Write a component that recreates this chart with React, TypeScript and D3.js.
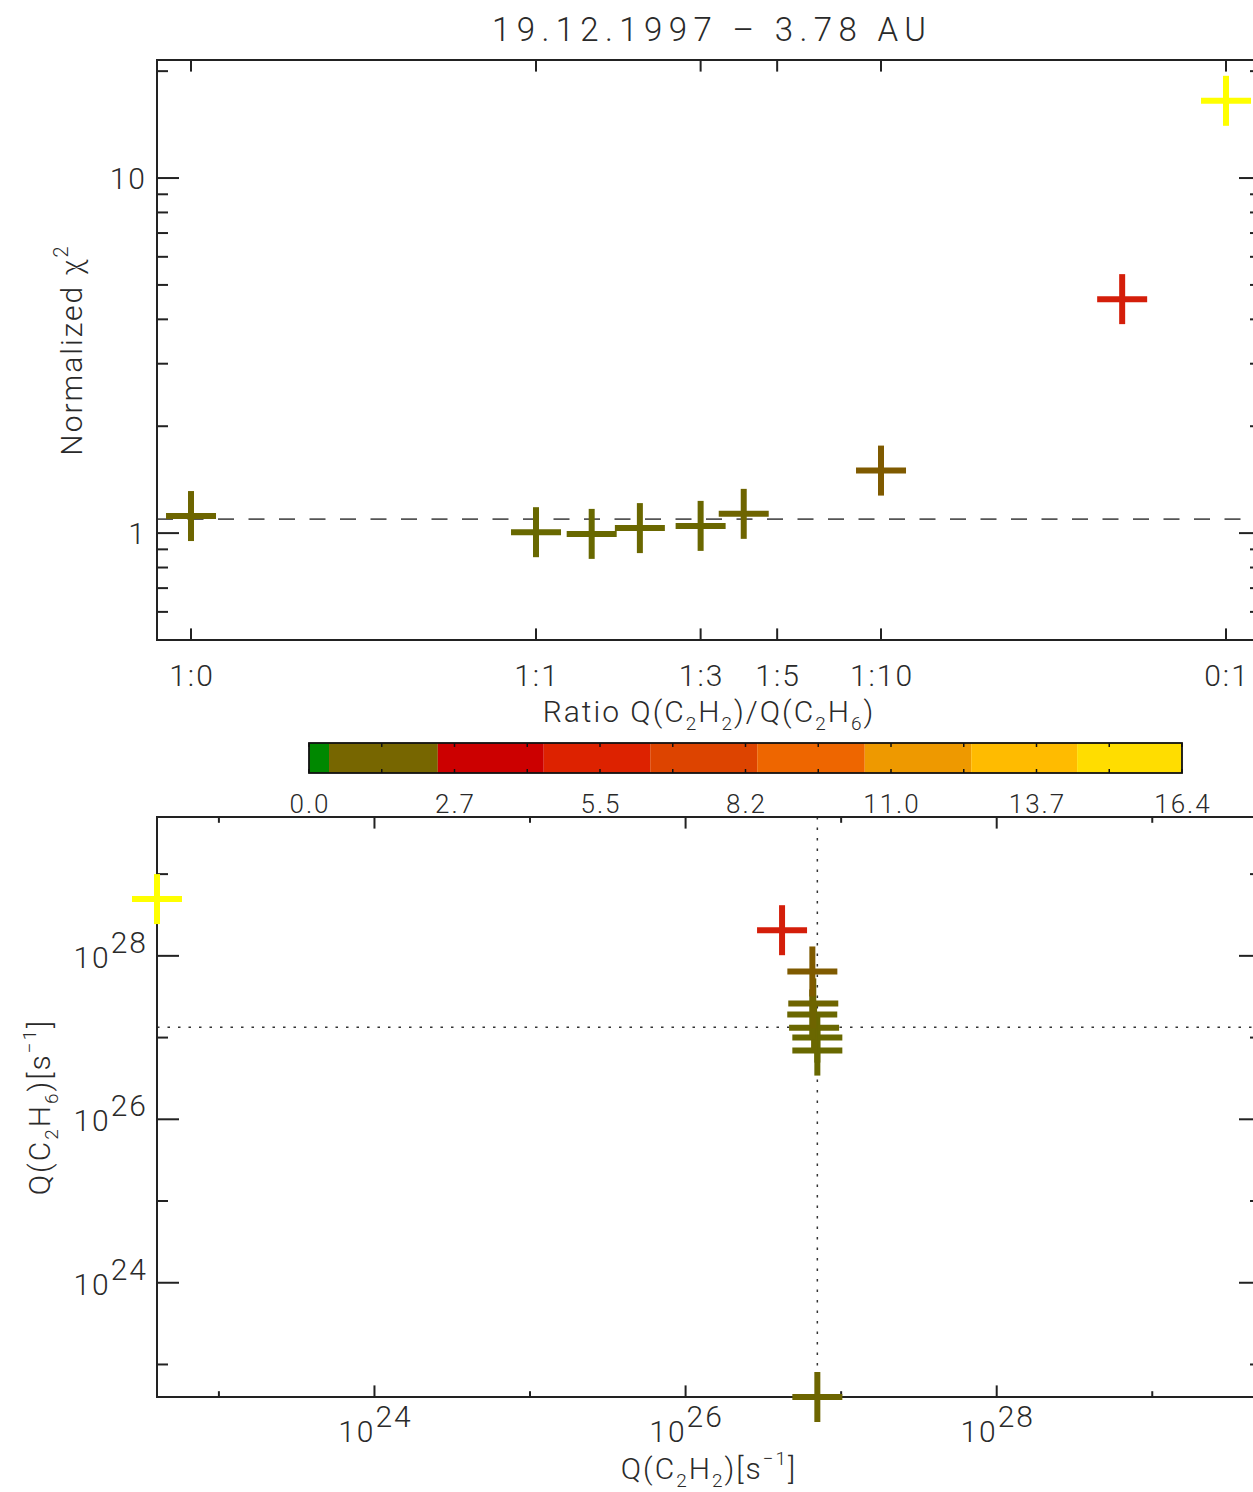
import React from 'react';
import * as d3 from 'd3';

// ---------- data ----------
const ratioTickLabels = ['1:0', '1:1', '1:3', '1:5', '1:10', '0:1'];
const ratioTickValues = [0.1, 1, 3, 5, 10, 100];
const ratioValues = [0.1, 1, 1.45, 2, 3, 4, 10, 50, 100];
const chi2Values = [1.117, 1.006, 0.995, 1.033, 1.048, 1.133, 1.5, 4.56, 16.5];
const qC2H2 = [7.03e26, 7.03e26, 7.03e26, 6.7e26, 6.52e26, 6.62e26, 6.53e26, 4.17e26, 0];
const qC2H6 = [0, 6.93e26, 1.0e27, 1.32e27, 1.92e27, 2.62e27, 6.44e27, 2.06e28, 4.95e28];
const chi2Reference = 1.095;
const bestQC2H2 = 7.03e26;
const bestQC2H6 = 1.34e27;

const chi2MajorTicks = [1, 10];
const chi2MinorTicks = [0.5, 0.6, 0.7, 0.8, 0.9, 2, 3, 4, 5, 6, 7, 8, 9, 20];
const qMajorExp = [24, 26, 28];
const qMinorExp = [23, 25, 27, 29];

const colorbarBounds = [0, 0.376, 2.42, 4.41, 6.41, 8.42, 10.44, 12.44, 14.43, 16.4];
const colorbarColors = ['#008800', '#776600', '#cc0000', '#dd2200', '#dd4400', '#ee6600', '#ee9900', '#ffbb00', '#ffdd00'];
const colorbarTickLabels = ['0.0', '2.7', '5.5', '8.2', '11.0', '13.7', '16.4'];
const colorbarMax = 16.4;

const chi2ColorStops = [1.0, 1.5, 4.56, 16.4];
const chi2Colors = ['#686800', '#7f5a00', '#d41e0a', '#ffff00'];

// ---------- layout ----------
const W = 1253, H = 1492;
const P1 = { l: 157, r: 1261, t: 60, b: 640 };
const P2 = { l: 157, r: 1261, t: 817, b: 1397 };
const CB = { l: 309, r: 1182, t: 743, b: 773 };
const FONT = 'Roboto, "DejaVu Sans", sans-serif';
const TXT = '#2a2a2a';
const AX = '#222';
const LS = 2;
const CROSS = 50;
const CROSS_W = 6;

const xTop = d3.scaleLog().domain([Math.pow(10, -1.0986), Math.pow(10, 2.1014)]).range([P1.l, P1.r]);
const yTop = d3.scaleLog().domain([0.5, 21.5]).range([P1.b, P1.t]);
const qDomain = [4e22, 5e29];
const xBot = d3.scaleLog().domain(qDomain).range([P2.l, P2.r]);
const yBot = d3.scaleLog().domain(qDomain).range([P2.b, P2.t]);
const cbX = d3.scaleLinear().domain([0, colorbarMax]).range([CB.l, CB.r]);
const chi2Color = d3.scaleLinear<string>().domain(chi2ColorStops).range(chi2Colors).interpolate(d3.interpolateRgb).clamp(true);

const clampQ = (v: number) => Math.max(v, qDomain[0]);

function Cross({ x, y, color }: { x: number; y: number; color: string }) {
  return (
    <g stroke={color} strokeWidth={CROSS_W}>
      <line x1={x - CROSS / 2} x2={x + CROSS / 2} y1={y} y2={y} />
      <line x1={x} x2={x} y1={y - CROSS / 2} y2={y + CROSS / 2} />
    </g>
  );
}

export default function App() {
  const xTickLen1 = 11.6, yTickLen = 22;
  const cbTickStep = colorbarMax / 12;
  const cbTicks = d3.range(0, 13).map((i) => i * cbTickStep);

  return (
    <svg width={W} height={H} style={{ position: 'absolute', left: 0, top: 0, background: '#fff' }} fontFamily={FONT} fontWeight={300} letterSpacing={LS}>
      <rect width={W} height={H} fill="#fff" />
      {/* Title */}
      <text x={709} y={41} textAnchor="middle" fontSize={33} fill={TXT} textLength={434} lengthAdjust="spacing" letterSpacing={0}>19.12.1997 – 3.78 AU</text>

      {/* ===== top panel ===== */}
      <line x1={P1.l} x2={P1.r} y1={yTop(chi2Reference)} y2={yTop(chi2Reference)} stroke="#555" strokeWidth={1.8} strokeDasharray="16 14.5" />
      <g stroke={AX} strokeWidth={2} fill="none">
        <rect x={P1.l} y={P1.t} width={P1.r - P1.l} height={P1.b - P1.t} />
        {ratioTickValues.map((v, i) => (
          <g key={i}>
            <line x1={xTop(v)} x2={xTop(v)} y1={P1.b} y2={P1.b - xTickLen1} />
            <line x1={xTop(v)} x2={xTop(v)} y1={P1.t} y2={P1.t + xTickLen1} />
          </g>
        ))}
        {chi2MajorTicks.map((v, i) => (
          <g key={'M' + i}>
            <line x1={P1.l} x2={P1.l + yTickLen} y1={yTop(v)} y2={yTop(v)} />
            <line x1={P1.r} x2={P1.r - yTickLen} y1={yTop(v)} y2={yTop(v)} />
          </g>
        ))}
        {chi2MinorTicks.map((v, i) => (
          <g key={'m' + i}>
            <line x1={P1.l} x2={P1.l + yTickLen / 2} y1={yTop(v)} y2={yTop(v)} />
            <line x1={P1.r} x2={P1.r - yTickLen / 2} y1={yTop(v)} y2={yTop(v)} />
          </g>
        ))}
      </g>
      {chi2MajorTicks.map((v, i) => (
        <text key={i} x={P1.l - 10} y={yTop(v) + 11} textAnchor="end" fontSize={30} fill={TXT}>{String(v)}</text>
      ))}
      {ratioTickValues.map((v, i) => (
        <text key={i} x={xTop(v) + 1} y={686} textAnchor="middle" fontSize={30} fill={TXT}>{ratioTickLabels[i]}</text>
      ))}
      <text x={709} y={722} textAnchor="middle" fontSize={30} fill={TXT}>
        Ratio Q(C<tspan fontSize={19} dy={8}>2</tspan><tspan dy={-8}>H</tspan><tspan fontSize={19} dy={8}>2</tspan><tspan dy={-8}>)/Q(C</tspan><tspan fontSize={19} dy={8}>2</tspan><tspan dy={-8}>H</tspan><tspan fontSize={19} dy={8}>6</tspan><tspan dy={-8}>)</tspan>
      </text>
      <text transform={`translate(82,${(P1.t + P1.b) / 2}) rotate(-90)`} textAnchor="middle" fontSize={30} fill={TXT}>
        Normalized χ<tspan fontSize={20} dy={-14}>2</tspan>
      </text>
      {ratioValues.map((r, i) => (
        <Cross key={i} x={xTop(r)} y={yTop(chi2Values[i])} color={chi2Color(chi2Values[i])} />
      ))}

      {/* ===== colorbar ===== */}
      {colorbarColors.map((c, i) => (
        <rect key={i} x={cbX(colorbarBounds[i])} y={CB.t} width={cbX(colorbarBounds[i + 1]) - cbX(colorbarBounds[i])} height={CB.b - CB.t} fill={c} />
      ))}
      <rect x={CB.l} y={CB.t} width={CB.r - CB.l} height={CB.b - CB.t} fill="none" stroke="#111" strokeWidth={1.8} />
      <g stroke="#111" strokeWidth={1.5}>
        {cbTicks.map((v, i) => (
          <g key={i}>
            <line x1={cbX(v)} x2={cbX(v)} y1={CB.t} y2={CB.t + 4} />
            <line x1={cbX(v)} x2={cbX(v)} y1={CB.b} y2={CB.b - 4} />
          </g>
        ))}
      </g>
      {colorbarTickLabels.map((t, i) => (
        <text key={i} x={cbX(i * 2 * cbTickStep) + 1} y={813} textAnchor="middle" fontSize={26} fill={TXT}>{t}</text>
      ))}

      {/* ===== bottom panel ===== */}
      <g stroke="#333" strokeWidth={1.5} strokeDasharray="2.5 8">
        <line x1={xBot(bestQC2H2)} x2={xBot(bestQC2H2)} y1={P2.t} y2={P2.b} />
        <line x1={P2.l} x2={P2.r} y1={yBot(bestQC2H6)} y2={yBot(bestQC2H6)} />
      </g>
      <g stroke={AX} strokeWidth={2} fill="none">
        <rect x={P2.l} y={P2.t} width={P2.r - P2.l} height={P2.b - P2.t} />
        {qMajorExp.map((e, i) => {
          const v = Math.pow(10, e);
          return (
            <g key={'M' + i}>
              <line x1={xBot(v)} x2={xBot(v)} y1={P2.b} y2={P2.b - xTickLen1} />
              <line x1={xBot(v)} x2={xBot(v)} y1={P2.t} y2={P2.t + xTickLen1} />
              <line x1={P2.l} x2={P2.l + yTickLen} y1={yBot(v)} y2={yBot(v)} />
              <line x1={P2.r} x2={P2.r - yTickLen} y1={yBot(v)} y2={yBot(v)} />
            </g>
          );
        })}
        {qMinorExp.map((e, i) => {
          const v = Math.pow(10, e);
          return (
            <g key={'m' + i}>
              <line x1={xBot(v)} x2={xBot(v)} y1={P2.b} y2={P2.b - xTickLen1 / 2} />
              <line x1={xBot(v)} x2={xBot(v)} y1={P2.t} y2={P2.t + xTickLen1 / 2} />
              <line x1={P2.l} x2={P2.l + yTickLen / 2} y1={yBot(v)} y2={yBot(v)} />
              <line x1={P2.r} x2={P2.r - yTickLen / 2} y1={yBot(v)} y2={yBot(v)} />
            </g>
          );
        })}
      </g>
      {qMajorExp.map((e, i) => {
        const v = Math.pow(10, e);
        return (
          <g key={i}>
            <text x={xBot(v) + 1} y={1442} textAnchor="middle" fontSize={30} fill={TXT}>
              10<tspan dy={-15}>{e}</tspan>
            </text>
            <text x={P2.l - 9} y={yBot(v) + 12} textAnchor="end" fontSize={30} fill={TXT}>
              10<tspan dy={-15}>{e}</tspan>
            </text>
          </g>
        );
      })}
      <text x={709} y={1479} textAnchor="middle" fontSize={30} fill={TXT}>
        Q(C<tspan fontSize={19} dy={8}>2</tspan><tspan dy={-8}>H</tspan><tspan fontSize={19} dy={8}>2</tspan><tspan dy={-8}>)[s</tspan><tspan fontSize={19} dy={-14}>−1</tspan><tspan dy={14}>]</tspan>
      </text>
      <text transform={`translate(50,${(P2.t + P2.b) / 2}) rotate(-90)`} textAnchor="middle" fontSize={30} fill={TXT}>
        Q(C<tspan fontSize={19} dy={8}>2</tspan><tspan dy={-8}>H</tspan><tspan fontSize={19} dy={8}>6</tspan><tspan dy={-8}>)[s</tspan><tspan fontSize={19} dy={-14}>−1</tspan><tspan dy={14}>]</tspan>
      </text>
      {ratioValues.map((r, i) => (
        <Cross key={i} x={xBot(clampQ(qC2H2[i]))} y={yBot(clampQ(qC2H6[i]))} color={chi2Color(chi2Values[i])} />
      ))}
    </svg>
  );
}
